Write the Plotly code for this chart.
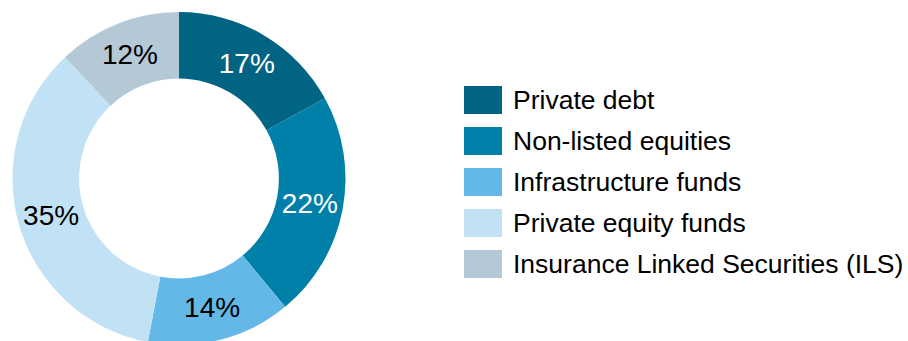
import plotly.graph_objects as go

W, H = 908, 345  # drawing is a touch taller than the 341px window; the lowest rim is clipped

categories = [
    "Private debt",
    "Non-listed equities",
    "Infrastructure funds",
    "Private equity funds",
    "Insurance Linked Securities (ILS)",
]
shares = [17, 22, 14, 35, 12]
colors = ["#006482", "#0080A8", "#64B8E8", "#C0E2F4", "#B4C8D6"]
label_colors = ["#FFFFFF", "#FFFFFF", "#000000", "#000000", "#000000"]

FONT = "Liberation Sans, Arial, sans-serif"

fig = go.Figure(
    go.Pie(
        labels=categories,
        values=shares,
        sort=False,
        direction="clockwise",
        rotation=0,
        hole=0.6,
        marker=dict(colors=colors, line=dict(width=0)),
        texttemplate="%{value}%",
        textposition="inside",
        insidetextorientation="horizontal",
        insidetextfont=dict(family=FONT, size=28, color=label_colors),
        domain=dict(x=[12.5 / W, 345.5 / W], y=[0, 333 / H]),
        showlegend=False,
        hoverinfo="label+percent",
    )
)

# Legend drawn as swatches plus labels
sw_x0, sw_x1, sw_h = 464, 502, 28
row0, row_step = 100, 41
shapes, annotations = [], []
for i, (name, col) in enumerate(zip(categories, colors)):
    cy = row0 + i * row_step
    shapes.append(dict(
        type="rect", xref="paper", yref="paper",
        x0=sw_x0 / W, x1=sw_x1 / W,
        y0=1 - (cy + sw_h / 2) / H, y1=1 - (cy - sw_h / 2) / H,
        fillcolor=col, line=dict(width=0),
    ))
    annotations.append(dict(
        text=name, xref="paper", yref="paper",
        x=511 / W, y=1 - cy / H, xanchor="left", yanchor="middle",
        showarrow=False, font=dict(family=FONT, size=26.5, color="#000000"),
    ))

fig.update_layout(
    width=W, height=H,
    margin=dict(l=0, r=0, t=0, b=0),
    paper_bgcolor="white", plot_bgcolor="white",
    uniformtext=dict(minsize=28, mode="show"),
    shapes=shapes, annotations=annotations,
)

fig.write_html(
    "out.html",
    post_script="document.documentElement.style.overflow='hidden';"
                "document.body.style.overflow='hidden';document.body.style.margin='0';",
)
